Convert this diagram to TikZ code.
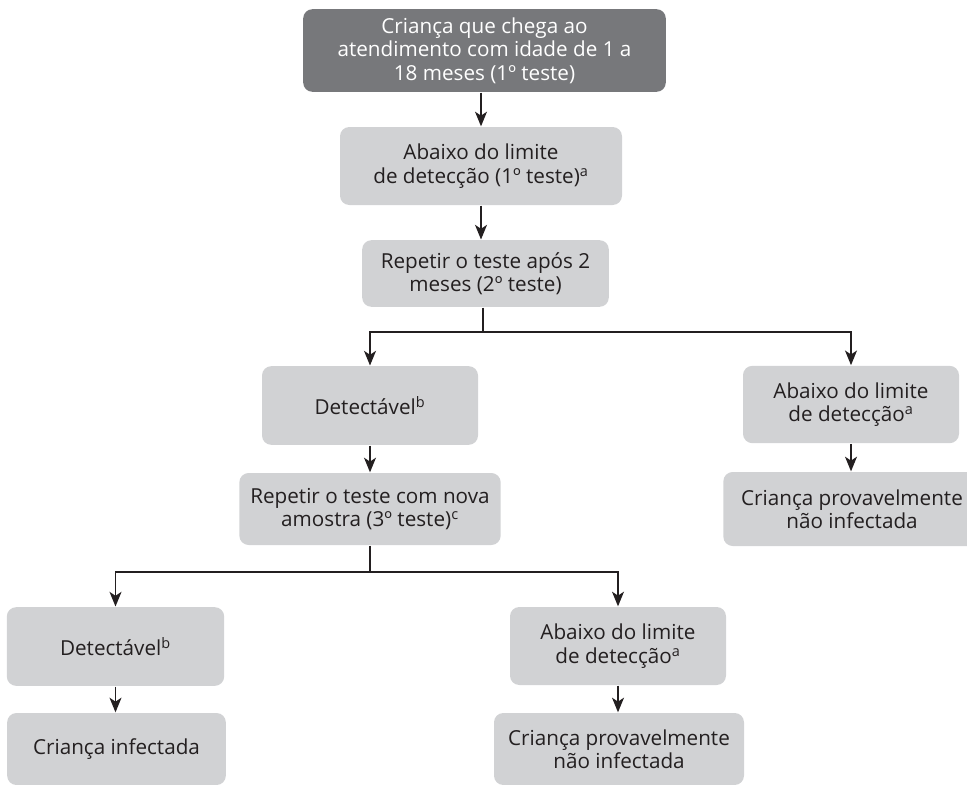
\documentclass[tikz,border=0pt]{standalone}
\usepackage{fontspec}
\setmainfont{Open Sans}
\usetikzlibrary{positioning}
\usetikzlibrary{arrows.meta}
\usetikzlibrary{shapes}
\definecolor{boxgray}{RGB}{209,210,212}
\definecolor{startgray}{RGB}{119,120,123}
\definecolor{inkgray}{RGB}{35,31,32}
\tikzset{
        treenode/.style={align=center,inner sep=0pt,rounded corners=7pt,font=\fontsize{15.5}{17.5}\selectfont},
        % Start node
        node_start/.style={treenode, rectangle, white, fill=startgray},
        % Step nodes
        node_step/.style={treenode, rectangle, inkgray, fill=boxgray}
}
\begin{document}
\begin{tikzpicture}[
            x=0.75pt, y=-0.75pt,
            >={Stealth[length=11pt,width=9pt,inset=3pt]},
            line width=1pt, draw=inkgray
        ]
            \useasboundingbox (0,0) rectangle (967,785);
            \node[node_start, minimum width=272pt, minimum height=62pt] (start) at (484.5,50.5)
                {Criança que chega ao\\atendimento com idade de 1 a\\18 meses (1º teste)};
            \node[node_step, minimum width=211.5pt, minimum height=58.5pt] (below1) at (481,166)
                {Abaixo do limite\\de detecção (1º teste)\textsuperscript{a}};
            \node[node_step, minimum width=185pt, minimum height=50pt] (repeat2) at (485.5,273.5)
                {Repetir o teste após 2\\meses (2º teste)};
            \node[node_step, minimum width=162pt, minimum height=59pt] (detect1) at (370,405.5)
                {Detectável\textsuperscript{b}};
            \node[node_step, minimum width=162pt, minimum height=58pt] (below2) at (851,404.5)
                {Abaixo do limite\\de detecção\textsuperscript{a}};
            \node[node_step, minimum width=196pt, minimum height=54pt] (repeat3) at (370,509)
                {Repetir o teste com nova\\amostra (3º teste)\textsuperscript{c}};
            \node[node_step, minimum width=193pt, minimum height=55.5pt] (notinf1) at (852,509)
                {Criança provavelmente\\não infectada};
            \node[node_step, minimum width=163pt, minimum height=59pt] (detect2) at (115.5,646.5)
                {Detectável\textsuperscript{b}};
            \node[node_step, minimum width=164pt, minimum height=54pt] (infected) at (116.5,749)
                {Criança infectada};
            \node[node_step, minimum width=162pt, minimum height=58.5pt] (below3) at (618,646)
                {Abaixo do limite\\de detecção\textsuperscript{a}};
            \node[node_step, minimum width=187.5pt, minimum height=54pt] (notinf2) at (619,749)
                {Criança provavelmente\\não infectada};

            % Forks
            \coordinate (fork_a) at (483,332);
            \coordinate (fork_b) at (370,572);

            \draw[->] (start.south -| below1) -- (below1.north);
            \draw[->] (below1) -- (below1 |- repeat2.north);
            \draw (repeat2.south -| fork_a) -- (fork_a);
            \draw[->] (fork_a) -| (detect1.north);
            \draw[->] (fork_a) -| (below2.north);
            \draw[->] (detect1) -- (repeat3);
            \draw[->] (below2) -- (below2 |- notinf1.north);
            \draw (repeat3) -- (fork_b);
            \draw[->] (fork_b) -| (detect2.north);
            \draw[->] (fork_b) -| (below3.north);
            \draw[->] (detect2) -- (detect2 |- infected.north);
            \draw[->] (below3) -- (below3 |- notinf2.north);
        \end{tikzpicture}
\end{document}
